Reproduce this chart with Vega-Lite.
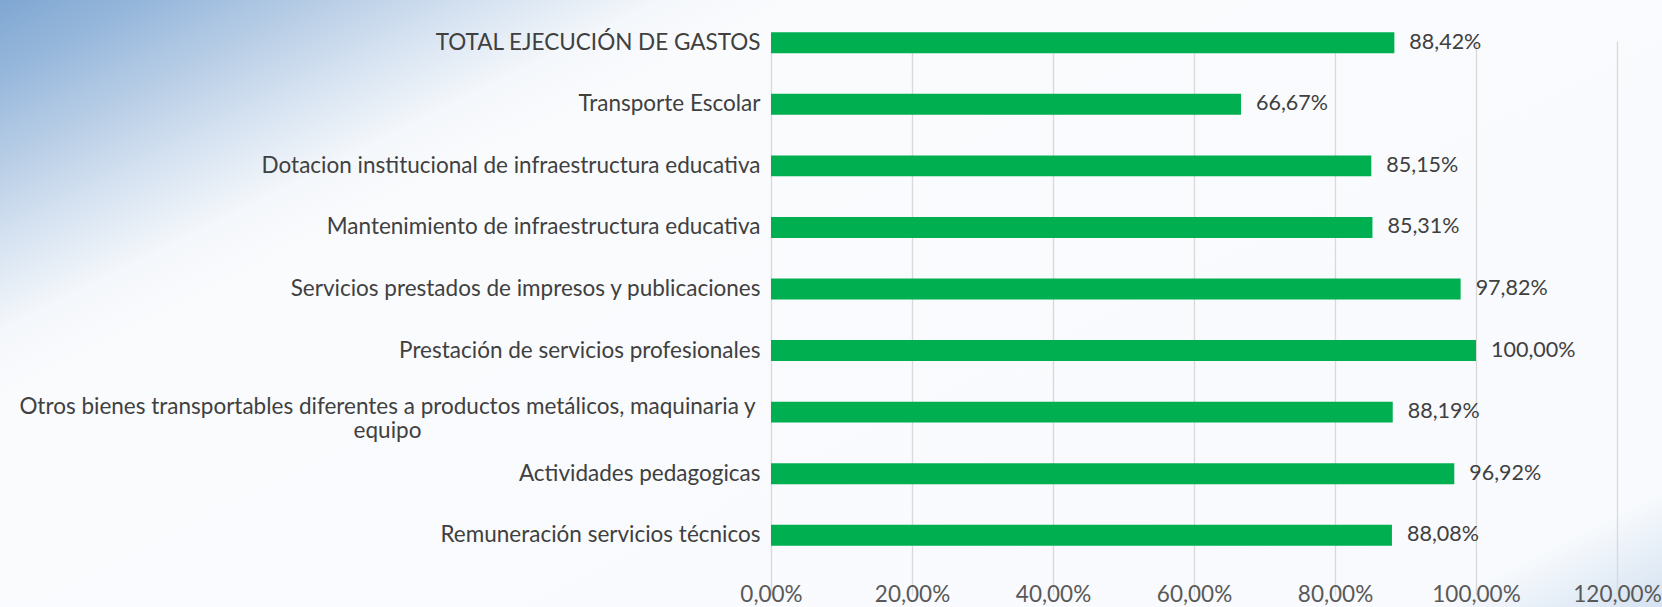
{
  "$schema": "https://vega.github.io/schema/vega-lite/v6.json",
  "width": 1662,
  "height": 607,
  "padding": 0,
  "autosize": {"type": "none"},
  "background": "#ffffff",
  "view": {
    "stroke": null,
    "fill": {
      "gradient": "linear",
      "x1": 0, "y1": 0, "x2": 1.128, "y2": 0.824,
      "stops": [
        {"offset": 0, "color": "#7fa7d2"},
        {"offset": 0.056, "color": "#98b8dc"},
        {"offset": 0.115, "color": "#b9cee6"},
        {"offset": 0.174, "color": "#d8e4f2"},
        {"offset": 0.23, "color": "#f4f7fb"},
        {"offset": 0.278, "color": "#fafbfd"},
        {"offset": 0.92, "color": "#f8fafd"},
        {"offset": 0.96, "color": "#e6eef7"},
        {"offset": 1, "color": "#d5e2f1"}
      ]
    }
  },
  "config": {
    "font": "Lato",
    "locale": {"number": {"decimal": ",", "thousands": ".", "grouping": [3], "currency": ["$", ""]}}
  },
  "data": {
    "values": [
      {"categoria": "TOTAL EJECUCIÓN DE GASTOS", "valor": 0.8842},
      {"categoria": "Transporte Escolar", "valor": 0.6667},
      {"categoria": "Dotacion institucional de infraestructura educativa", "valor": 0.8515},
      {"categoria": "Mantenimiento de infraestructura educativa", "valor": 0.8531},
      {"categoria": "Servicios prestados de impresos y publicaciones", "valor": 0.9782},
      {"categoria": "Prestación de servicios profesionales", "valor": 1.0},
      {"categoria": "Otros bienes transportables diferentes a productos metálicos, maquinaria y equipo", "valor": 0.8819},
      {"categoria": "Actividades pedagogicas", "valor": 0.9692},
      {"categoria": "Remuneración servicios técnicos", "valor": 0.8808}
    ]
  },
  "resolve": {"axis": {"y": "independent"}},
  "layer": [
    {
      "mark": {"type": "bar", "color": "#00b050"},
      "encoding": {
        "y": {
          "field": "categoria",
          "type": "nominal",
          "sort": null,
          "scale": {"range": [12, 566], "paddingInner": 0.66, "paddingOuter": 0.33},
          "axis": {
            "orient": "left",
            "title": null,
            "domain": false,
            "ticks": false,
            "grid": false,
            "offset": -771,
            "labelPadding": 11,
            "labelFontSize": 22.5,
            "labelColor": "#404040",
            "labelLimit": 1200,
            "labelAlign": "right",
            "labelExpr": "indexof(datum.value, 'Otros') == 0 ? '' : datum.label"
          }
        },
        "x": {
          "field": "valor",
          "type": "quantitative",
          "scale": {"domain": [-1.09362, 1.26383], "nice": false, "zero": false},
          "axis": {
            "title": null,
            "values": [0, 0.2, 0.4, 0.6, 0.8, 1, 1.2],
            "format": ".2%",
            "grid": true,
            "gridColor": "#d9d9d9",
            "gridWidth": 1.3,
            "domain": false,
            "ticks": false,
            "labelPadding": 0,
            "labelBaseline": "middle",
            "offset": -13,
            "labelFontSize": 22.5,
            "labelColor": "#595959",
            "labelFlush": false,
            "labelOverlap": false
          }
        }
      }
    },
    {
      "mark": {"type": "text", "align": "left", "baseline": "middle", "dx": 15, "fontSize": 21.5, "color": "#404040"},
      "encoding": {
        "y": {
          "field": "categoria",
          "type": "nominal",
          "sort": null,
          "axis": {
            "orient": "left",
            "title": null,
            "domain": false,
            "ticks": false,
            "grid": false,
            "offset": -771,
            "labelPadding": 384,
            "labelFontSize": 22.5,
            "labelColor": "#404040",
            "labelLimit": 1200,
            "labelAlign": "center",
            "labelLineHeight": 24,
            "labelOffset": -5,
            "labelExpr": "indexof(datum.value, 'Otros') == 0 ? ['Otros bienes transportables diferentes a productos metálicos, maquinaria y', 'equipo'] : ''"
          }
        },
        "x": {"field": "valor", "type": "quantitative"},
        "text": {"field": "valor", "type": "quantitative", "format": ".2%"}
      }
    }
  ]
}
